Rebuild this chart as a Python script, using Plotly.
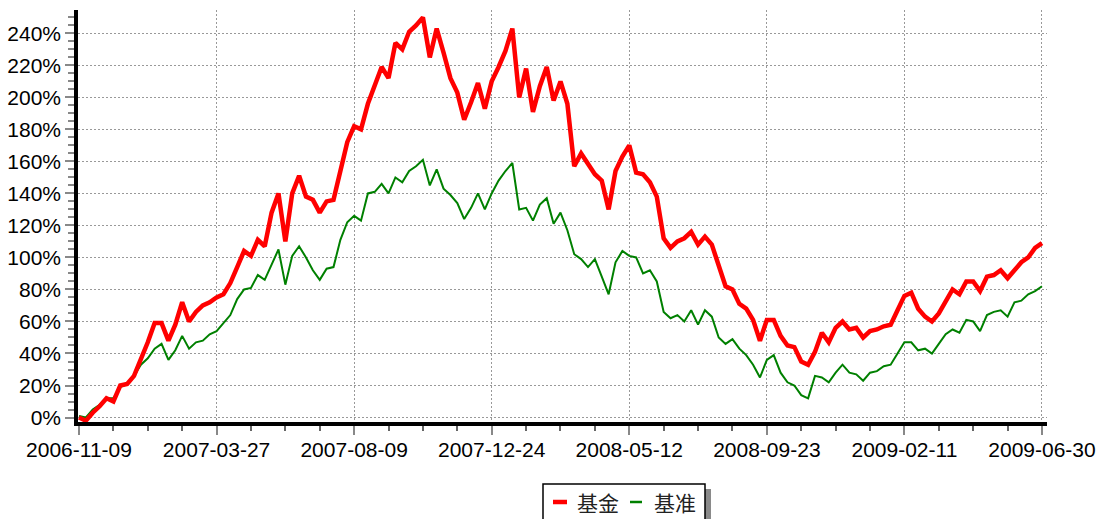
import plotly.graph_objects as go

# ---- data (values in %, one point per sampling step along the trading-day axis) ----
tick_labels = ["2006-11-09", "2007-03-27", "2007-08-09", "2007-12-24",
               "2008-05-12", "2008-09-23", "2009-02-11", "2009-06-30"]

fund = [0, -2, 3, 7, 12, 10, 20, 21, 26, 36, 47, 59, 59, 48, 58, 72, 60, 66, 70, 72,
        75, 77, 84, 94, 104, 101, 111, 107, 128, 140, 110, 140, 151, 138, 136, 128, 135, 136, 155, 172,
        182, 180, 196, 207, 219, 212, 234, 230, 241, 245, 250, 225, 243, 228, 212, 203, 186, 197, 209, 193,
        210, 219, 229, 243, 200, 218, 191, 207, 219, 198, 210, 196, 157, 165, 158, 152, 148, 130, 154, 163,
        170, 153, 152, 147, 138, 112, 106, 110, 112, 116, 108, 113, 108, 96, 82, 80, 71, 68, 61, 48,
        61, 61, 51, 45, 44, 35, 33, 41, 53, 47, 56, 60, 55, 56, 50, 54, 55, 57, 58, 67,
        76, 78, 68, 63, 60, 65, 73, 80, 77, 85, 85, 79, 88, 89, 92, 87, 92, 97, 100, 106,
        109]

bench = [1, 0, 5, 8, 12, 12, 19, 21, 26, 33, 37, 43, 46, 36, 42, 51, 43, 47, 48, 52,
         54, 59, 64, 74, 80, 81, 89, 86, 96, 105, 83, 101, 107, 100, 92, 86, 93, 94, 111, 122,
         126, 123, 140, 141, 146, 140, 150, 147, 154, 157, 161, 145, 155, 143, 139, 134, 124, 131, 140, 130,
         140, 148, 154, 159, 130, 131, 123, 133, 137, 121, 128, 117, 102, 99, 94, 99, 88, 77, 97, 104,
         101, 100, 90, 92, 85, 66, 62, 64, 60, 67, 58, 67, 63, 50, 46, 49, 43, 39, 33, 25,
         36, 39, 28, 22, 20, 14, 12, 26, 25, 22, 28, 33, 28, 27, 23, 28, 29, 32, 33, 40,
         47, 47, 42, 43, 40, 46, 52, 55, 53, 61, 60, 54, 64, 66, 67, 63, 72, 73, 77, 79,
         82]

series_names = ["基金", "基准"]

x_idx = list(range(len(fund)))
step = (len(fund) - 1) // (len(tick_labels) - 1)
tick_vals = [i * step for i in range(len(tick_labels))]

fig = go.Figure()
fig.add_trace(go.Scatter(x=x_idx, y=bench, mode="lines", name=series_names[1],
                         line=dict(color="#008000", width=2)))
fig.add_trace(go.Scatter(x=x_idx, y=fund, mode="lines", name=series_names[0],
                         line=dict(color="#FF0000", width=4.5)))

L, R, T, B = 78, 1047, 10, 422
W, H = 1099, 519


def px(x):
    return (x - L) / (R - L)


def py(y):
    return (B - y) / (B - T)


axis_font = dict(family="Arial, Liberation Sans, sans-serif", size=21, color="black")

fig.update_xaxes(
    range=[-0.145, 140.73], tickmode="array", tickvals=tick_vals, ticktext=tick_labels,
    showline=True, linewidth=3.5, linecolor="black", automargin=False,
    ticks="outside", ticklen=9, tickwidth=1.5, tickcolor="#888888",
    showgrid=True, gridcolor="#999999", gridwidth=1, griddash="2px,2px",
    zeroline=False, tickfont=axis_font, ticklabelstandoff=-3,
    minor=dict(tickmode="linear", tick0=0, dtick=5, ticks="outside", ticklen=5,
               tickwidth=1.5, tickcolor="#666666", showgrid=False),
)
fig.update_yaxes(
    range=[-2.8, 254.6], tickmode="linear", tick0=0, dtick=20, ticksuffix="%",
    showline=True, linewidth=3.5, linecolor="black", automargin=False,
    ticks="outside", ticklen=9, tickwidth=1.5, tickcolor="#888888",
    showgrid=True, gridcolor="#999999", gridwidth=1, griddash="2px,2px",
    zeroline=False, tickfont=axis_font,
    minor=dict(tickmode="linear", tick0=0, dtick=5, ticks="outside", ticklen=6,
               tickwidth=1.5, tickcolor="#888888", showgrid=False),
)

# legend box with drop shadow, drawn below the plot
shapes = [
    dict(type="rect", xref="paper", yref="paper", x0=px(705), x1=px(711), y0=py(489), y1=py(540),
         fillcolor="#8a8a8a", line=dict(width=0), layer="above"),
    dict(type="rect", xref="paper", yref="paper", x0=px(543), x1=px(705), y0=py(484), y1=py(540),
         fillcolor="white", line=dict(color="black", width=1.5), layer="above"),
    dict(type="line", xref="paper", yref="paper", x0=px(553), x1=px(567), y0=py(502), y1=py(502),
         line=dict(color="#FF0000", width=4.5), layer="above"),
    dict(type="line", xref="paper", yref="paper", x0=px(630), x1=px(642), y0=py(502), y1=py(502),
         line=dict(color="#008000", width=2.5), layer="above"),
]
legend_font = dict(family="Noto Sans CJK SC", size=21, color="#222222")
annotations = [
    dict(xref="paper", yref="paper", x=px(575), y=py(502), xanchor="left", yanchor="middle",
         text=series_names[0], showarrow=False, font=legend_font),
    dict(xref="paper", yref="paper", x=px(652), y=py(502), xanchor="left", yanchor="middle",
         text=series_names[1], showarrow=False, font=legend_font),
]

fig.update_layout(
    width=W, height=H, margin=dict(l=L, r=W - R, t=T, b=H - B, autoexpand=False),
    paper_bgcolor="white", plot_bgcolor="white", showlegend=False,
    shapes=shapes, annotations=annotations,
)

fig.write_html("out.html", config={"displayModeBar": False},
               post_script="document.body.style.margin='0';")
